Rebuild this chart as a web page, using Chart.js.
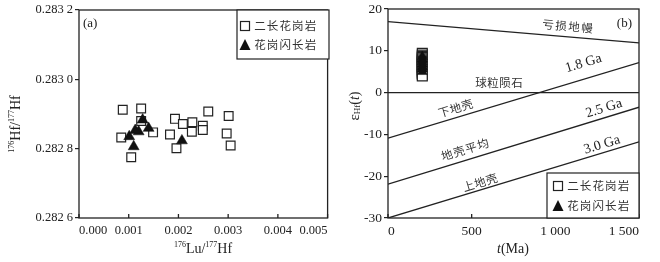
<!DOCTYPE html>
<html>
<head>
<meta charset="utf-8">
<script src="https://cdn.jsdelivr.net/npm/chart.js@4.4.1/dist/chart.umd.min.js"></script>
<style>
  html, body { margin: 0; padding: 0; background: #fff; }
  #wrap { position: relative; width: 660px; height: 262px; }
  canvas { position: absolute; top: 0; }
  #ca { left: 0; }
  #cb { left: 335px; }
</style>
</head>
<body>
<div id="wrap">
  <canvas id="ca" width="335" height="262"></canvas>
  <canvas id="cb" width="325" height="262"></canvas>
</div>
<script>
// ---- panel (a): 176Lu/177Hf vs 176Hf/177Hf ----
const monzoLu = [0.00088, 0.00125, 0.00085, 0.00105, 0.00149, 0.00193, 0.00183, 0.00209, 0.00228,
                 0.00227, 0.00249, 0.00249, 0.00260, 0.00196, 0.00301, 0.00297, 0.00305, 0.00125];
const monzoHf = [0.282912, 0.282916, 0.282832, 0.282775, 0.282847, 0.282886, 0.282841, 0.282871, 0.282876,
                 0.282849, 0.282866, 0.282854, 0.282907, 0.282801, 0.282894, 0.282844, 0.282809, 0.282880];
const granoLu = [0.00128, 0.00120, 0.00140, 0.00101, 0.00110, 0.00207, 0.00113];
const granoHf = [0.282883, 0.282849, 0.282859, 0.282835, 0.282806, 0.282823, 0.282853];
const luTicks = [0, 0.001, 0.002, 0.003, 0.004, 0.005];
const hfTicks = [0.2826, 0.2828, 0.2830, 0.2832];

// ---- panel (b): t(Ma) vs epsilon Hf(t) ----
const monzoAge = 205;
const monzoEps = [9.4, 9.0, 8.7, 8.4, 8.1, 7.8, 7.5, 7.2, 6.9, 6.6, 6.3, 6.0, 5.6, 5.2, 4.9, 4.6, 4.3, 4.0];
const granoAge = 205;
const granoEps = [8.6, 8.0, 7.4, 6.8, 6.2, 5.6, 5.0];
const tEnds = [0, 1500];
const dmEps = [17.0, 11.9];     // 亏损地幔
const churEps = [0, 0];         // 球粒陨石
const ga18Eps = [-10.9, 7.2];
const ga25Eps = [-21.9, -3.5];
const ga30Eps = [-30, -11.8];
const tTicks = [0, 500, 1000, 1500];
const epsTicks = [-30, -20, -10, 0, 10, 20];

const legendNames = ['二长花岗岩', '花岗闪长岩'];

const SERIF = '"Liberation Serif", "Times New Roman", serif';
const CJK = '"Noto Sans CJK SC", sans-serif';
const INK = '#222';

function spaced(ctx, text, x, y, angle, font, adv, color) {
  ctx.save();
  ctx.translate(x, y);
  ctx.rotate(angle);
  ctx.font = font;
  ctx.fillStyle = color || INK;
  ctx.textAlign = 'center';
  ctx.textBaseline = 'middle';
  const chars = Array.from(text);
  const start = -adv * (chars.length - 1) / 2;
  chars.forEach((c, i) => ctx.fillText(c, start + i * adv, 0));
  ctx.restore();
}

// parts: [text, size, dy, italic]
function rich(ctx, parts, x, y, angle) {
  ctx.save();
  ctx.translate(x, y);
  ctx.rotate(angle);
  ctx.fillStyle = INK;
  ctx.textBaseline = 'middle';
  ctx.textAlign = 'left';
  let w = 0;
  const widths = parts.map(p => {
    ctx.font = (p[3] ? 'italic ' : '') + p[1] + 'px ' + SERIF;
    const m = ctx.measureText(p[0]).width;
    w += m;
    return m;
  });
  let cx = -w / 2;
  parts.forEach((p, i) => {
    ctx.font = (p[3] ? 'italic ' : '') + p[1] + 'px ' + SERIF;
    ctx.fillText(p[0], cx, p[2] || 0);
    cx += widths[i];
  });
  ctx.restore();
}

function square(ctx, x, y, s) {
  ctx.fillStyle = '#fff';
  ctx.strokeStyle = INK;
  ctx.lineWidth = 1.2;
  ctx.fillRect(x - s / 2, y - s / 2, s, s);
  ctx.strokeRect(x - s / 2, y - s / 2, s, s);
}

function triangle(ctx, x, y, s) {
  ctx.fillStyle = '#111';
  ctx.beginPath();
  ctx.moveTo(x, y - s * 0.55);
  ctx.lineTo(x + s / 2, y + s * 0.45);
  ctx.lineTo(x - s / 2, y + s * 0.45);
  ctx.closePath();
  ctx.fill();
}

function legendBox(ctx, x0, y0, x1, y1, rowY, markX, textX) {
  ctx.save();
  ctx.fillStyle = '#fff';
  ctx.fillRect(x0, y0, x1 - x0, y1 - y0);
  ctx.strokeStyle = INK;
  ctx.lineWidth = 1.2;
  ctx.strokeRect(x0, y0, x1 - x0, y1 - y0);
  square(ctx, markX, rowY[0], 9);
  triangle(ctx, markX, rowY[1], 11);
  legendNames.forEach((n, i) => {
    const adv = 12.6;
    spaced(ctx, n, textX + adv * (n.length - 1) / 2 + 6, rowY[i], 0, '11.5px ' + CJK, adv, '#333');
  });
  ctx.restore();
}

function frame(chart) {
  const { ctx, chartArea: a, scales } = chart;
  ctx.save();
  ctx.strokeStyle = INK;
  ctx.lineWidth = 1.3;
  ctx.strokeRect(a.left, a.top, a.right - a.left, a.bottom - a.top);
  ctx.beginPath();
  scales.x.ticks.forEach(t => {
    const px = scales.x.getPixelForValue(t.value);
    ctx.moveTo(px, a.bottom);
    ctx.lineTo(px, a.bottom - 4);
  });
  ctx.stroke();
  ctx.restore();
}

function baseScales(xTicks, yTicks, yWidth, xFmt, yFmt, size) {
  return {
    x: {
      type: 'linear', min: xTicks[0], max: xTicks[xTicks.length - 1],
      afterBuildTicks: s => { s.ticks = xTicks.map(v => ({ value: v })); },
      afterFit: s => { s.height = 44; s.paddingLeft = 0; s.paddingRight = 0; },
      grid: { display: false, drawTicks: false },
      border: { display: false },
      ticks: { align: 'inner', padding: 5, color: INK, font: { family: SERIF, size }, callback: xFmt, maxRotation: 0 }
    },
    y: {
      type: 'linear', min: yTicks[0], max: yTicks[yTicks.length - 1],
      afterBuildTicks: s => { s.ticks = yTicks.map(v => ({ value: v })); },
      afterFit: s => { s.width = yWidth; s.paddingTop = 0; s.paddingBottom = 0; },
      grid: { drawOnChartArea: false, drawTicks: true, tickLength: 4, color: INK, lineWidth: 1.2 },
      border: { display: false },
      ticks: { padding: 2, color: INK, font: { family: SERIF, size }, callback: yFmt }
    }
  };
}

// ---------- chart (a) ----------
new Chart(document.getElementById('ca'), {
  type: 'scatter',
  data: {
    datasets: [
      {
        label: legendNames[1],
        data: granoLu.map((x, i) => ({ x, y: granoHf[i] })),
        pointStyle: 'triangle', pointRadius: 6.3,
        backgroundColor: '#111', borderColor: '#111', borderWidth: 0.5
      },
      {
        label: legendNames[0],
        data: monzoLu.map((x, i) => ({ x, y: monzoHf[i] })),
        pointStyle: 'rect', pointRadius: 6.2,
        backgroundColor: '#fff', borderColor: INK, borderWidth: 1.2
      }
    ]
  },
  options: {
    responsive: false, animation: false, events: [],
    layout: { padding: { top: 10, right: 6, left: 0, bottom: 0 } },
    plugins: { legend: { display: false }, tooltip: { enabled: false } },
    scales: baseScales(luTicks, hfTicks, 79,
      v => v.toFixed(3),
      v => v.toFixed(4).replace(/(\d)$/, ' $1'), 12.5)
  },
  plugins: [{
    id: 'decorA',
    afterDraw(chart) {
      const ctx = chart.ctx;
      frame(chart);
      ctx.save();
      ctx.font = '13px ' + SERIF;
      ctx.fillStyle = INK;
      ctx.textBaseline = 'middle';
      ctx.fillText('(a)', 83, 24);
      ctx.restore();
      legendBox(ctx, 237, 10, 329, 59, [26, 45], 245, 254);
      rich(ctx, [['176', 8, -4], ['Lu/', 14], ['177', 8, -4], ['Hf', 14]], 203, 249, 0);
      rich(ctx, [['176', 8, -4], ['Hf/', 14], ['177', 8, -4], ['Hf', 14]], 16, 124, -Math.PI / 2);
    }
  }]
});

// ---------- chart (b) ----------
const lineDs = (eps) => ({
  type: 'line',
  data: tEnds.map((t, i) => ({ x: t, y: eps[i] })),
  borderColor: INK, borderWidth: 1.3, pointRadius: 0, fill: false
});

const curveLabels = [
  { text: '亏损地幔', t: 1073, e: 15.9, along: dmEps, cjk: true, adv: 13 },
  { text: '1.8 Ga', t: 1168, e: 7.0, along: ga18Eps },
  { text: '球粒陨石', t: 663, e: 2.4, along: churEps, cjk: true, adv: 12 },
  { text: '下地壳', t: 403, e: -3.7, along: ga18Eps, cjk: true, adv: 12 },
  { text: '2.5 Ga', t: 1291, e: -3.8, along: ga25Eps },
  { text: '地壳平均', t: 460, e: -13.6, along: ga25Eps, cjk: true, adv: 12.5 },
  { text: '3.0 Ga', t: 1279, e: -12.5, along: ga30Eps },
  { text: '上地壳', t: 550, e: -21.5, along: ga30Eps, cjk: true, adv: 12 }
];

new Chart(document.getElementById('cb'), {
  type: 'scatter',
  data: {
    datasets: [
      {
        label: legendNames[1],
        data: granoEps.map(e => ({ x: granoAge, y: e })),
        pointStyle: 'triangle', pointRadius: 5.7,
        backgroundColor: '#111', borderColor: '#111', borderWidth: 0.5
      },
      {
        label: legendNames[0],
        data: monzoEps.map(e => ({ x: monzoAge, y: e })),
        pointStyle: 'rect', pointRadius: 7,
        backgroundColor: '#fff', borderColor: INK, borderWidth: 1.2
      },
      lineDs(dmEps), lineDs(churEps), lineDs(ga18Eps), lineDs(ga25Eps), lineDs(ga30Eps)
    ]
  },
  options: {
    responsive: false, animation: false, events: [],
    layout: { padding: { top: 9, right: 21, left: 0, bottom: 0 } },
    plugins: { legend: { display: false }, tooltip: { enabled: false } },
    scales: baseScales(tTicks, epsTicks, 53,
      v => v >= 1000 ? '1 ' + String(v).slice(1) : String(v),
      v => String(v), 13.5)
  },
  plugins: [{
    id: 'decorB',
    afterDraw(chart) {
      const { ctx, scales: { x, y } } = chart;
      frame(chart);
      curveLabels.forEach(l => {
        const x0 = x.getPixelForValue(tEnds[0]), y0 = y.getPixelForValue(l.along[0]);
        const x1 = x.getPixelForValue(tEnds[1]), y1 = y.getPixelForValue(l.along[1]);
        const ang = Math.atan2(y1 - y0, x1 - x0);
        const px = x.getPixelForValue(l.t), py = y.getPixelForValue(l.e);
        if (l.cjk) spaced(ctx, l.text, px, py, ang, '11.5px ' + CJK, l.adv, '#333');
        else rich(ctx, [[l.text, 14]], px, py, ang);
      });
      ctx.save();
      ctx.font = '13px ' + SERIF;
      ctx.fillStyle = INK;
      ctx.textBaseline = 'middle';
      ctx.textAlign = 'right';
      ctx.fillText('(b)', 297, 24);
      ctx.restore();
      legendBox(ctx, 212, 173, 304, 218, [186, 206], 223, 232);
      rich(ctx, [['t', 14, 0, true], ['(Ma)', 14]], 178, 249, 0);
      rich(ctx, [['ε', 15], ['Hf', 9, 3], ['(', 14], ['t', 14, 0, true], [')', 14]], 20, 106, -Math.PI / 2);
    }
  }]
});
</script>
</body>
</html>
